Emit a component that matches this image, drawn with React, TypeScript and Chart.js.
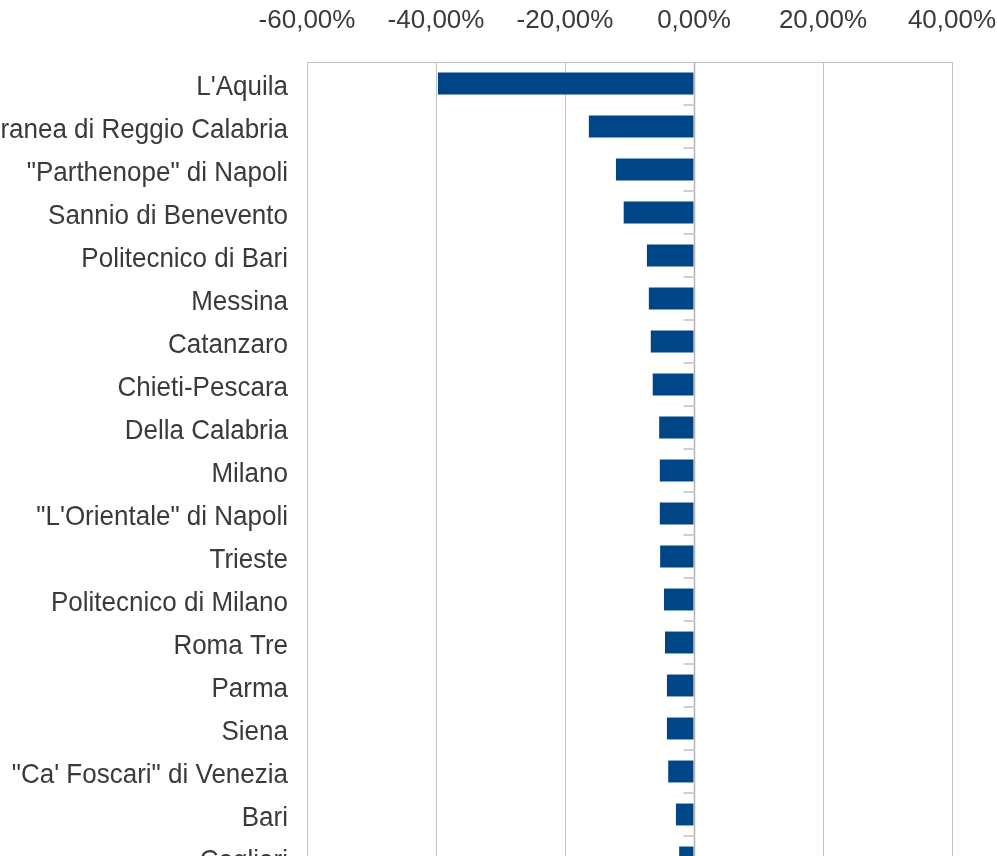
import React, { useEffect, useRef } from "react";
import { Chart, registerables } from "chart.js";

Chart.register(...registerables);

const categories = [
  "L'Aquila",
  "Mediterranea di Reggio Calabria",
  "\"Parthenope\" di Napoli",
  "Sannio di Benevento",
  "Politecnico di Bari",
  "Messina",
  "Catanzaro",
  "Chieti-Pescara",
  "Della Calabria",
  "Milano",
  "\"L'Orientale\" di Napoli",
  "Trieste",
  "Politecnico di Milano",
  "Roma Tre",
  "Parma",
  "Siena",
  "\"Ca' Foscari\" di Venezia",
  "Bari",
  "Cagliari",
];

const values = [
  -39.7, -16.3, -12.1, -10.9, -7.3, -7.0, -6.7, -6.4, -5.4, -5.3, -5.3, -5.25,
  -4.65, -4.5, -4.2, -4.2, -4.0, -2.8, -2.3,
];

const xMin = -60;
const xMax = 40;
const xStep = 20;

const FAMILY = "'Liberation Sans', Arial, sans-serif";
const FONT = { family: FAMILY, size: 26 };
const TEXT = "#3a3a3a";
const GRID = "#c4c4c4";

const frameAndTicks = {
  id: "frameAndTicks",
  afterDatasetsDraw(chart: any) {
    const { ctx, chartArea } = chart;
    const x = chart.scales.x;
    const y = chart.scales.y;
    ctx.save();
    ctx.strokeStyle = GRID;
    ctx.lineWidth = 1;
    ctx.strokeRect(
      Math.round(chartArea.left) + 0.5,
      Math.round(chartArea.top) + 0.5,
      Math.round(chartArea.right - chartArea.left),
      Math.round(chartArea.bottom - chartArea.top)
    );
    const zx = Math.round(x.getPixelForValue(0)) + 0.5;
    ctx.strokeStyle = "#b3b3b3";
    ctx.lineWidth = 1.5;
    ctx.beginPath();
    ctx.moveTo(zx, chartArea.top);
    ctx.lineTo(zx, chartArea.bottom);
    ctx.stroke();
    ctx.strokeStyle = "#d0d0d0";
    ctx.lineWidth = 2;
    for (let i = 0; i < categories.length; i++) {
      const py = Math.round(y.getPixelForValue(i + 0.5));
      ctx.beginPath();
      ctx.moveTo(zx - 11, py);
      ctx.lineTo(zx, py);
      ctx.stroke();
    }
    // category labels (from the y scale positions)
    ctx.fillStyle = TEXT;
    ctx.font = `26px ${FAMILY}`;
    ctx.textAlign = "right";
    ctx.textBaseline = "alphabetic";
    for (let i = 0; i < categories.length; i++) {
      const py = y.getPixelForValue(i);
      ctx.save();
      ctx.translate(chartArea.left - 19, py + 11.5);
      ctx.scale(1, 1.05);
      ctx.fillText(categories[i], 0, 0);
      ctx.restore();
    }
    ctx.restore();
  },
};

export default function App() {
  const ref = useRef<HTMLCanvasElement>(null);

  useEffect(() => {
    if (!ref.current) return;
    const chart = new Chart(ref.current, {
      type: "bar",
      data: {
        labels: categories,
        datasets: [
          {
            data: values,
            backgroundColor: "#004586",
            borderWidth: 0,
            barPercentage: 0.51,
            categoryPercentage: 1,
          },
        ],
      },
      options: {
        indexAxis: "y",
        animation: false,
        responsive: false,
        layout: { padding: { top: 0, right: 80, bottom: 40, left: 0 } },
        plugins: { legend: { display: false }, tooltip: { enabled: false } },
        scales: {
          x: {
            position: "top",
            min: xMin,
            max: xMax,
            ticks: {
              stepSize: xStep,
              font: FONT,
              color: TEXT,
              padding: 26,
              maxRotation: 0,
              callback: (v: any) => Number(v).toFixed(2).replace(".", ",") + "%",
            },
            grid: { color: GRID, drawTicks: false, lineWidth: 1 },
            border: { display: true, color: GRID },
            afterFit: (s: any) => {
              s.height = 62;
            },
          },
          y: {
            ticks: { display: false, autoSkip: false },
            grid: { display: false, drawTicks: false },
            border: { display: true, color: GRID },
            afterFit: (s: any) => {
              s.width = 400;
            },
          },
        },
      },
      plugins: [frameAndTicks],
    });
    return () => chart.destroy();
  }, []);

  return (
    <div
      style={{
        position: "fixed",
        left: 0,
        top: 0,
        width: 997,
        height: 856,
        overflow: "hidden",
        background: "#fff",
      }}
    >
      <canvas
        ref={ref}
        width={1125}
        height={919}
        style={{ position: "absolute", left: -93, top: 0, width: 1125, height: 919 }}
      />
    </div>
  );
}
